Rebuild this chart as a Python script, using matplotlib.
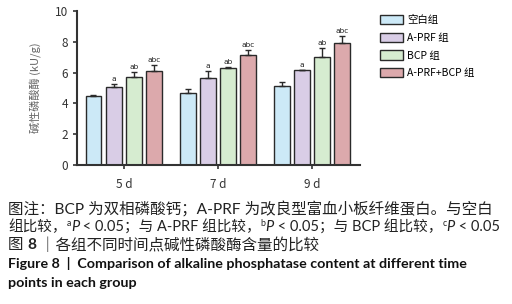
import numpy as np
import matplotlib
matplotlib.use('Agg')
import matplotlib.pyplot as plt
from matplotlib.patches import Patch

plt.rcParams['font.family'] = ['Noto Sans CJK SC', 'DejaVu Sans']

days = ['5 d', '7 d', '9 d']
groups = ['空白组', 'A-PRF 组', 'BCP 组', 'A-PRF+BCP 组']
colors = ['#cce9f7', '#d9cde6', '#d6ecd0', '#dca9ac']

means = [
    [4.48, 4.65, 5.13],
    [5.04, 5.63, 6.15],
    [5.71, 6.30, 6.99],
    [6.10, 7.12, 7.90],
]
errs = [
    [0.07, 0.28, 0.26],
    [0.22, 0.49, 0.05],
    [0.31, 0.08, 0.59],
    [0.39, 0.35, 0.50],
]
marks = ['', 'a', 'ab', 'abc']

fig = plt.figure(figsize=(5.12, 3.04), dpi=100)
ax = fig.add_axes([0.150, 0.457, 0.553, 0.507])

x = np.arange(len(days))
step = 0.215
w = 0.17
for i in range(len(groups)):
    xs = x + (i - 1.5) * step
    ax.bar(xs, means[i], w, color=colors[i], edgecolor='#2a2a2a', linewidth=1.0, zorder=2)
    ax.errorbar(xs, means[i], yerr=[np.zeros(3), errs[i]], fmt='none',
                ecolor='#2a2a2a', elinewidth=1.0, capsize=2.5, capthick=1.0, zorder=3)
    if marks[i]:
        for xx, m, e in zip(xs, means[i], errs[i]):
            ax.text(xx, m + e + 0.12, marks[i], ha='center', va='bottom',
                    fontsize=5.3, family=['DejaVu Sans'], color='#222')

ax.set_xlim(-0.5, 2.51)
ax.set_ylim(0, 10)
ax.set_yticks([0, 2, 4, 6, 8, 10])
ax.set_xticks(x)
ax.set_xticklabels(days, fontsize=8.5, color='#333')
ax.tick_params(axis='y', labelsize=8.5, labelcolor='#333', width=1.2, length=3, color='#333')
ax.tick_params(axis='x', width=1.2, length=3, color='#333', pad=6)
for s in ['top', 'right']:
    ax.spines[s].set_visible(False)
for s in ['left', 'bottom']:
    ax.spines[s].set_linewidth(1.5)
    ax.spines[s].set_color('#333')
ax.set_ylabel('碱性磷酸酶 (kU/g)', fontsize=8, color='#666', labelpad=9)

handles = [Patch(facecolor=c, edgecolor='#2a2a2a', linewidth=1.0) for c in colors]
fig.legend(handles, groups, loc='upper left', bbox_to_anchor=(0.728, 0.975),
           frameon=False, fontsize=7.5, handlelength=2.2, handleheight=1.0,
           labelspacing=0.72, handletextpad=0.4, borderpad=0.2)

# caption: pieces placed one after another so italic / superscript / bold can mix
cap = ['Lato', 'Noto Sans CJK SC']
renderer = fig.canvas.get_renderer()


def run(ypix, pieces, fs):
    xpix = 8
    for s, kw in pieces:
        y = ypix
        size = fs
        if kw.get('sup'):
            size = fs * 0.6
            y = ypix - 4
        t = fig.text(xpix / 512, 1 - y / 304, s, fontsize=size, family=cap,
                     style=kw.get('style', 'normal'), weight=kw.get('weight', 'normal'),
                     va='center', ha='left', color='#222')
        xpix += t.get_window_extent(renderer).width


N = {}
SUP = {'sup': True}
IT = {'style': 'italic'}
run(209, [('图注：BCP 为双相磷酸钙；A-PRF 为改良型富血小板纤维蛋白。与空白', N)], 11.2)
run(227, [('组比较，', N), ('a', SUP), ('P', IT), (' < 0.05；与 A-PRF 组比较，', N),
          ('b', SUP), ('P', IT), (' < 0.05；与 BCP 组比较，', N),
          ('c', SUP), ('P', IT), (' < 0.05', N)], 10.5)
run(245, [('图 ', N), ('8', {'weight': 'bold'}), (' ｜各组不同时间点碱性磷酸酶含量的比较', N)], 11.2)

fig.text(0.015, 1 - 264 / 304, 'Figure 8  |  Comparison of alkaline phosphatase content at different time',
         fontsize=10.3, family=['Lato'], weight='bold', va='center', color='#111')
fig.text(0.015, 1 - 283 / 304, 'points in each group',
         fontsize=10.3, family=['Lato'], weight='bold', va='center', color='#111')

fig.savefig('out.png', dpi=100)
